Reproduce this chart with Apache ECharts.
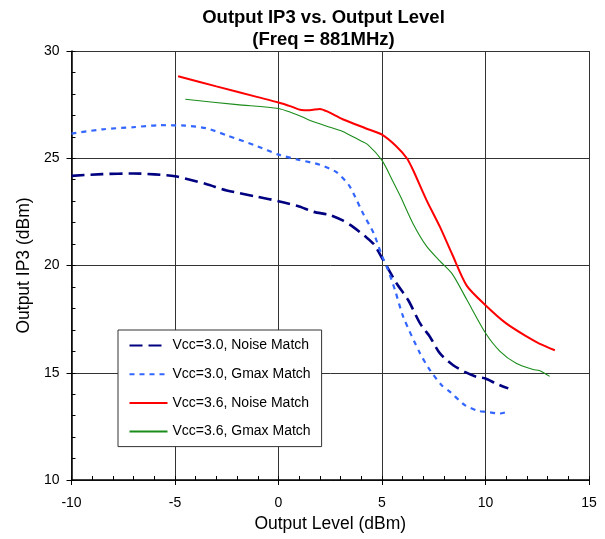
<!DOCTYPE html>
<html><head><meta charset="utf-8">
<script src="https://cdn.jsdelivr.net/npm/echarts@6/dist/echarts.min.js"></script>
<style>html,body{margin:0;padding:0;background:#fff}#c{width:605px;height:539px}</style>
</head><body><div id="c"></div>
<script>
const seriesNames = ['Vcc=3.0, Noise Match','Vcc=3.0, Gmax Match','Vcc=3.6, Noise Match','Vcc=3.6, Gmax Match'];
const xTicks = [-10,-5,0,5,10,15];
const yTicks = [10,15,20,25,30];
const vcc30Noise = [[-10,24.18],[-8.5,24.26],[-7,24.29],[-6,24.25],[-5,24.16],[-3.5,23.8],[-2.5,23.5],[-1,23.2],[0,23.0],[1,22.75],[1.7,22.5],[2.5,22.35],[3.1,22.1],[3.6,21.8],[4.2,21.35],[4.6,21.0],[5.06,20.25],[5.71,19.16],[6.27,18.38],[6.84,17.3],[7.32,16.67],[7.8,15.9],[8.44,15.35],[9.0,15.04],[9.57,14.81],[10,14.73],[10.5,14.5],[11.1,14.27]];
const vcc30Gmax = [[-10,26.15],[-8.5,26.35],[-7,26.45],[-5.7,26.54],[-4.5,26.52],[-3.5,26.4],[-2.5,26.07],[-1,25.55],[0,25.17],[1,24.92],[2,24.7],[2.8,24.35],[3.4,23.75],[3.7,23.2],[4.1,22.4],[4.6,21.5],[5,20.45],[5.25,19.9],[5.63,18.85],[6.03,17.6],[6.84,15.9],[7.32,15.12],[7.88,14.42],[8.29,14.11],[9.0,13.49],[9.65,13.22],[10,13.18],[10.7,13.1],[11.1,13.2]];
const vcc36Noise = [[-4.85,28.82],[-3,28.35],[-1,27.85],[0,27.6],[0.6,27.42],[1.1,27.25],[1.5,27.24],[2.0,27.3],[2.4,27.16],[3.1,26.82],[4.2,26.4],[5,26.1],[5.7,25.55],[6.2,25.0],[6.5,24.45],[7.15,23.05],[7.8,21.8],[8.4,20.5],[9.1,19.05],[10,18.15],[11,17.3],[12,16.68],[12.6,16.36],[13.35,16.05]];
const vcc36Gmax = [[-4.5,27.75],[-2,27.5],[0,27.32],[0.7,27.1],[1.1,26.95],[1.5,26.77],[2.3,26.5],[3.1,26.25],[3.9,25.85],[4.3,25.65],[5,24.9],[5.5,23.98],[5.9,23.2],[6.5,21.95],[7.15,20.9],[7.8,20.2],[8.4,19.6],[9.1,18.4],[10,16.85],[10.7,16.0],[11.5,15.43],[12.3,15.15],[12.6,15.1],[13.1,14.83]];

const FONT = 'Liberation Sans, Arial, sans-serif';
const chart = echarts.init(document.getElementById('c'), null, {renderer:'canvas'});
const xMin = xTicks[0], xMax = xTicks[xTicks.length-1];
const yMin = yTicks[0], yMax = yTicks[yTicks.length-1];
const gridCol = '#333';
chart.setOption({
  animation:false,
  backgroundColor:'#fff',
  title:{
    text:'Output IP3 vs. Output Level\n(Freq = 881MHz)',
    left:323.5, textAlign:'center', top:6.5, padding:0,
    textStyle:{fontFamily:FONT,fontSize:18.5,fontWeight:'bold',color:'#000',lineHeight:22}
  },
  grid:{left:71.5,right:16,top:51,bottom:59,containLabel:false},
  xAxis:[
    {type:'value',min:xMin,max:xMax,interval:5,
     name:'Output Level (dBm)',nameLocation:'middle',nameGap:34,
     nameTextStyle:{fontFamily:FONT,fontSize:17.5,color:'#000'},
     axisLine:{onZero:false,lineStyle:{color:'#000',width:1.5}},
     axisTick:{show:true,inside:false,length:5,lineStyle:{color:'#000'}},
     axisLabel:{fontFamily:FONT,fontSize:14,color:'#000',margin:16},
     splitLine:{show:true,lineStyle:{color:gridCol,width:1}}},
    {type:'value',min:xMin,max:xMax,interval:1,position:'bottom',
     axisLine:{show:false,onZero:false},axisTick:{show:true,inside:true,length:4,lineStyle:{color:'#000'}},
     axisLabel:{show:false},splitLine:{show:false}}
  ],
  yAxis:[
    {type:'value',min:yMin,max:yMax,interval:5,
     name:'Output IP3 (dBm)',nameLocation:'middle',nameGap:38,
     nameTextStyle:{fontFamily:FONT,fontSize:17.5,color:'#000'},
     axisLine:{onZero:false,lineStyle:{color:'#000',width:1.5}},
     axisTick:{show:true,inside:false,length:5,lineStyle:{color:'#000'}},
     axisLabel:{fontFamily:FONT,fontSize:14,color:'#000',margin:12},
     splitLine:{show:true,lineStyle:{color:gridCol,width:1}}},
    {type:'value',min:yMin,max:yMax,interval:1,position:'left',
     axisLine:{show:false,onZero:false},axisTick:{show:true,inside:true,length:4,lineStyle:{color:'#000'}},
     axisLabel:{show:false},splitLine:{show:false}}
  ],
  legend:{
    orient:'vertical',left:118,top:330,
    backgroundColor:'#fff',borderColor:'#333',borderWidth:1,
    padding:[8.5,11,8,10.5],itemGap:14.7,itemWidth:38,itemHeight:14,
    itemStyle:{opacity:0},
    textStyle:{fontFamily:FONT,fontSize:14,color:'#000'},
    data:seriesNames
  },
  series:[
    {name:seriesNames[0],type:'line',data:vcc30Noise,showSymbol:false,symbol:'none',smooth:0.25,
     itemStyle:{color:'#000080'},lineStyle:{color:'#000080',width:2.6,type:[13,6]}},
    {name:seriesNames[1],type:'line',data:vcc30Gmax,showSymbol:false,symbol:'none',smooth:0.25,
     itemStyle:{color:'#3366ff'},lineStyle:{color:'#3366ff',width:2.2,type:[5,5]}},
    {name:seriesNames[2],type:'line',data:vcc36Noise,showSymbol:false,symbol:'none',smooth:0.25,
     itemStyle:{color:'#ff0000'},lineStyle:{color:'#ff0000',width:2}},
    {name:seriesNames[3],type:'line',data:vcc36Gmax,showSymbol:false,symbol:'none',smooth:0.25,
     itemStyle:{color:'#1a8c1a'},lineStyle:{color:'#1a8c1a',width:1.1}}
  ]
});
</script></body></html>
